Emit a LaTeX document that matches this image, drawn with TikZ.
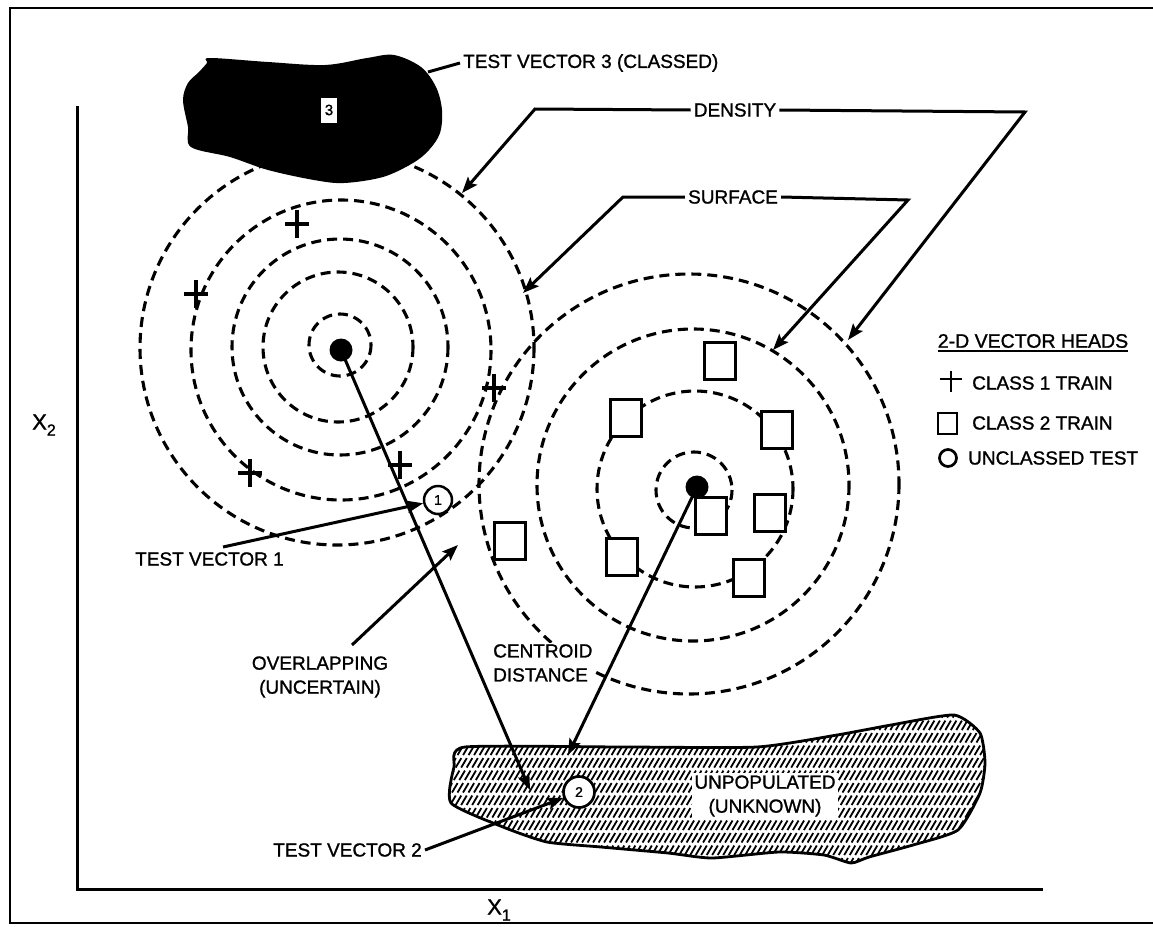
\documentclass[tikz,border=0pt]{standalone}
\usepackage{fontspec}
\setmainfont{Liberation Sans}[FakeBold=1.2]
\usetikzlibrary{arrows.meta}
\begin{document}
\begin{tikzpicture}[x=1pt,y=-1pt,
  lbl/.style={font=\fontsize{19}{24}\selectfont, inner sep=3pt},
  dcirc/.style={line width=3.1pt, dash pattern=on 10pt off 6pt},
  lead/.style={line width=3pt},
  arr/.style={line width=3pt, -{Stealth[length=16pt,width=12pt,inset=3pt]}},
  sqm/.style={draw, line width=3.2pt, minimum width=31pt, minimum height=37pt, inner sep=0pt, fill=white},
  dot/.style={circle, fill=black, minimum size=23pt, inner sep=0pt},
  tcirc/.style={circle, draw, fill=white, line width=2.5pt, inner sep=0pt, font=\fontsize{14}{14}\selectfont},
  plusm/.pic={\draw[line width=3.8pt] (-12,0) -- (12,0) (0,-14) -- (0,14);}
]
\useasboundingbox (0,0) rectangle (1153,926);
\fill[white] (0,0) rectangle (1153,926);
% frame
\draw[line width=2.6pt] (1160,8) -- (10,8) -- (10,923) -- (1160,923);
% axes
\draw[line width=3pt] (77,106) -- (77,889) -- (1043,889);
\node[font=\fontsize{22}{22}\selectfont, inner sep=0pt] (xtwo) at (44,425) {X\raisebox{-6pt}{\fontsize{16}{16}\selectfont 2}};
\node[font=\fontsize{22}{22}\selectfont, inner sep=0pt] (xone) at (499,910) {X\raisebox{-6pt}{\fontsize{16}{16}\selectfont 1}};

% left cluster circles
\draw[dcirc] (340,345) circle (31);
\draw[dcirc] (338,347) circle (75);
\draw[dcirc] (340,347) circle (108);
\draw[dcirc] (341,350) circle (150);
\draw[dcirc] (337,348) circle (197);
% right cluster circles
\draw[dcirc] (694,490) circle (38);
\draw[dcirc] (695,489) circle (98);
\draw[dcirc] (693,485) circle (156);
\draw[dcirc] (689,484) circle (210);

% top blob (test vector 3)
\fill plot[smooth cycle, tension=0.55] coordinates {(210,58) (268,62) (325,65) (367,58) (394,55) (421,67) (436,87) (442,110) (440,133) (429,150) (413,163) (383,177) (344,183) (314,180) (268,170) (230,157) (191,147) (188,127) (183,100) (188,83) (199,72) (207,63)};
\node[fill=white, inner sep=0pt, font=\fontsize{15}{15}\selectfont, minimum width=16pt, minimum height=25pt] (b3) at (329,110) {3};

% bottom blob (unpopulated)
\begin{scope}
\clip plot[smooth cycle, tension=0.35] coordinates {(465,747) (454,767) (451,803) (503,827) (547,842) (601,847) (668,853) (712,858) (779,852) (824,855) (851,863) (869,857) (913,845) (958,830) (980,793) (985,763) (980,733) (954,715) (891,725) (837,735) (757,747) (623,747)};
\foreach \i in {340,345.5,...,990} \draw[line width=1.8pt, dash pattern=on 11pt off 3.5pt] (\i,880) -- ++(106,-180);
\end{scope}
\draw[line width=2.8pt] plot[smooth cycle, tension=0.35] coordinates {(465,747) (454,767) (451,803) (503,827) (547,842) (601,847) (668,853) (712,858) (779,852) (824,855) (851,863) (869,857) (913,845) (958,830) (980,793) (985,763) (980,733) (954,715) (891,725) (837,735) (757,747) (623,747)};
\node[lbl, align=center, fill=white, inner sep=2pt] (unp) at (765,796) {UNPOPULATED\\(UNKNOWN)};

% class 2 squares
\node[sqm] (s1) at (720,361) {};
\node[sqm] (s2) at (626,418) {};
\node[sqm] (s3) at (777,430) {};
\node[sqm] (s4) at (711,516) {};
\node[sqm] (s5) at (770,513) {};
\node[sqm] (s6) at (622,557) {};
\node[sqm] (s7) at (749,578) {};
\node[sqm] (s8) at (510,541) {};

% class 1 pluses
\pic at (297,224) {plusm};
\pic at (196,294) {plusm};
\pic at (494,388) {plusm};
\pic at (250,473) {plusm};
\pic at (400,465) {plusm};

% centroids
\node[dot] (c1) at (341,350) {};
\node[dot] (c2) at (697,487) {};

% test vectors
\node[tcirc, minimum size=28pt] (tv1) at (438,500) {1};
\node[tcirc, minimum size=31pt, line width=2.7pt] (tv2) at (579,792) {2};

% labels
\node[lbl, anchor=west] (tv3lbl) at (460,63) {TEST VECTOR 3 (CLASSED)};
\node[lbl] (dens) at (735,110) {DENSITY};
\node[lbl] (surf) at (733,197) {SURFACE};
\node[lbl, anchor=west] (tv1lbl) at (132,559) {TEST VECTOR 1};
\node[lbl, anchor=east] (tv2lbl) at (425,850) {TEST VECTOR 2};
\node[lbl, align=center] (ovl) at (320,677) {OVERLAPPING\\(UNCERTAIN)};
\node[lbl, align=left, anchor=north west, fill=white, inner sep=1pt] (cent) at (492,643) {CENTROID\\DISTANCE};

% leaders and arrows
\coordinate (b3edge) at (428,72);
\draw[lead] (b3edge) -- (tv3lbl.west);
\coordinate (dA) at (462,193);
\draw[arr] (dens.west) -- (535,109) -- (dA);
\coordinate (dB) at (848,340);
\draw[arr] (dens.east) -- (1025,112) -- (dB);
\coordinate (sA) at (523,293);
\draw[arr] (surf.west) -- (623,197) -- (sA);
\coordinate (sB) at (773,350);
\draw[arr] (surf.east) -- (908,200) -- (sB);

\coordinate (cd1) at (530,790);
\draw[arr] (c1.center) -- (cd1);
\coordinate (cd2) at (568,755);
\draw[arr] (c2.center) -- (cd2);

\coordinate (tv1s) at (223,547);
\draw[arr] (tv1s) -- (tv1);
\draw[arr] (tv2lbl.east) -- (tv2);
\coordinate (ovs) at (352,645);
\coordinate (ovt) at (458,545);
\draw[arr] (ovs) -- (ovt);

% legend
\node[font=\fontsize{19.5}{20}\selectfont, inner sep=0pt] (lgt) at (1033,341) {2-D VECTOR HEADS};
\draw[line width=2.6pt] ([yshift=-3pt]lgt.south west) -- ([yshift=-3pt]lgt.south east);
\draw[line width=2.6pt] (940,379) -- (962,379) (951,371) -- (951,392);
\node[lbl, anchor=west, inner sep=0pt] (l1) at (972,383) {CLASS 1 TRAIN};
\node[draw, line width=2.7pt, minimum width=19pt, minimum height=21pt, inner sep=0pt] (l2s) at (947.5,423.5) {};
\node[lbl, anchor=west, inner sep=0pt] (l2) at (972,423) {CLASS 2 TRAIN};
\node[circle, draw, line width=2.7pt, minimum size=17pt, inner sep=0pt] (l3c) at (948,458) {};
\node[lbl, anchor=west, inner sep=0pt] (l3) at (968,458) {UNCLASSED TEST};
\end{tikzpicture}
\end{document}
